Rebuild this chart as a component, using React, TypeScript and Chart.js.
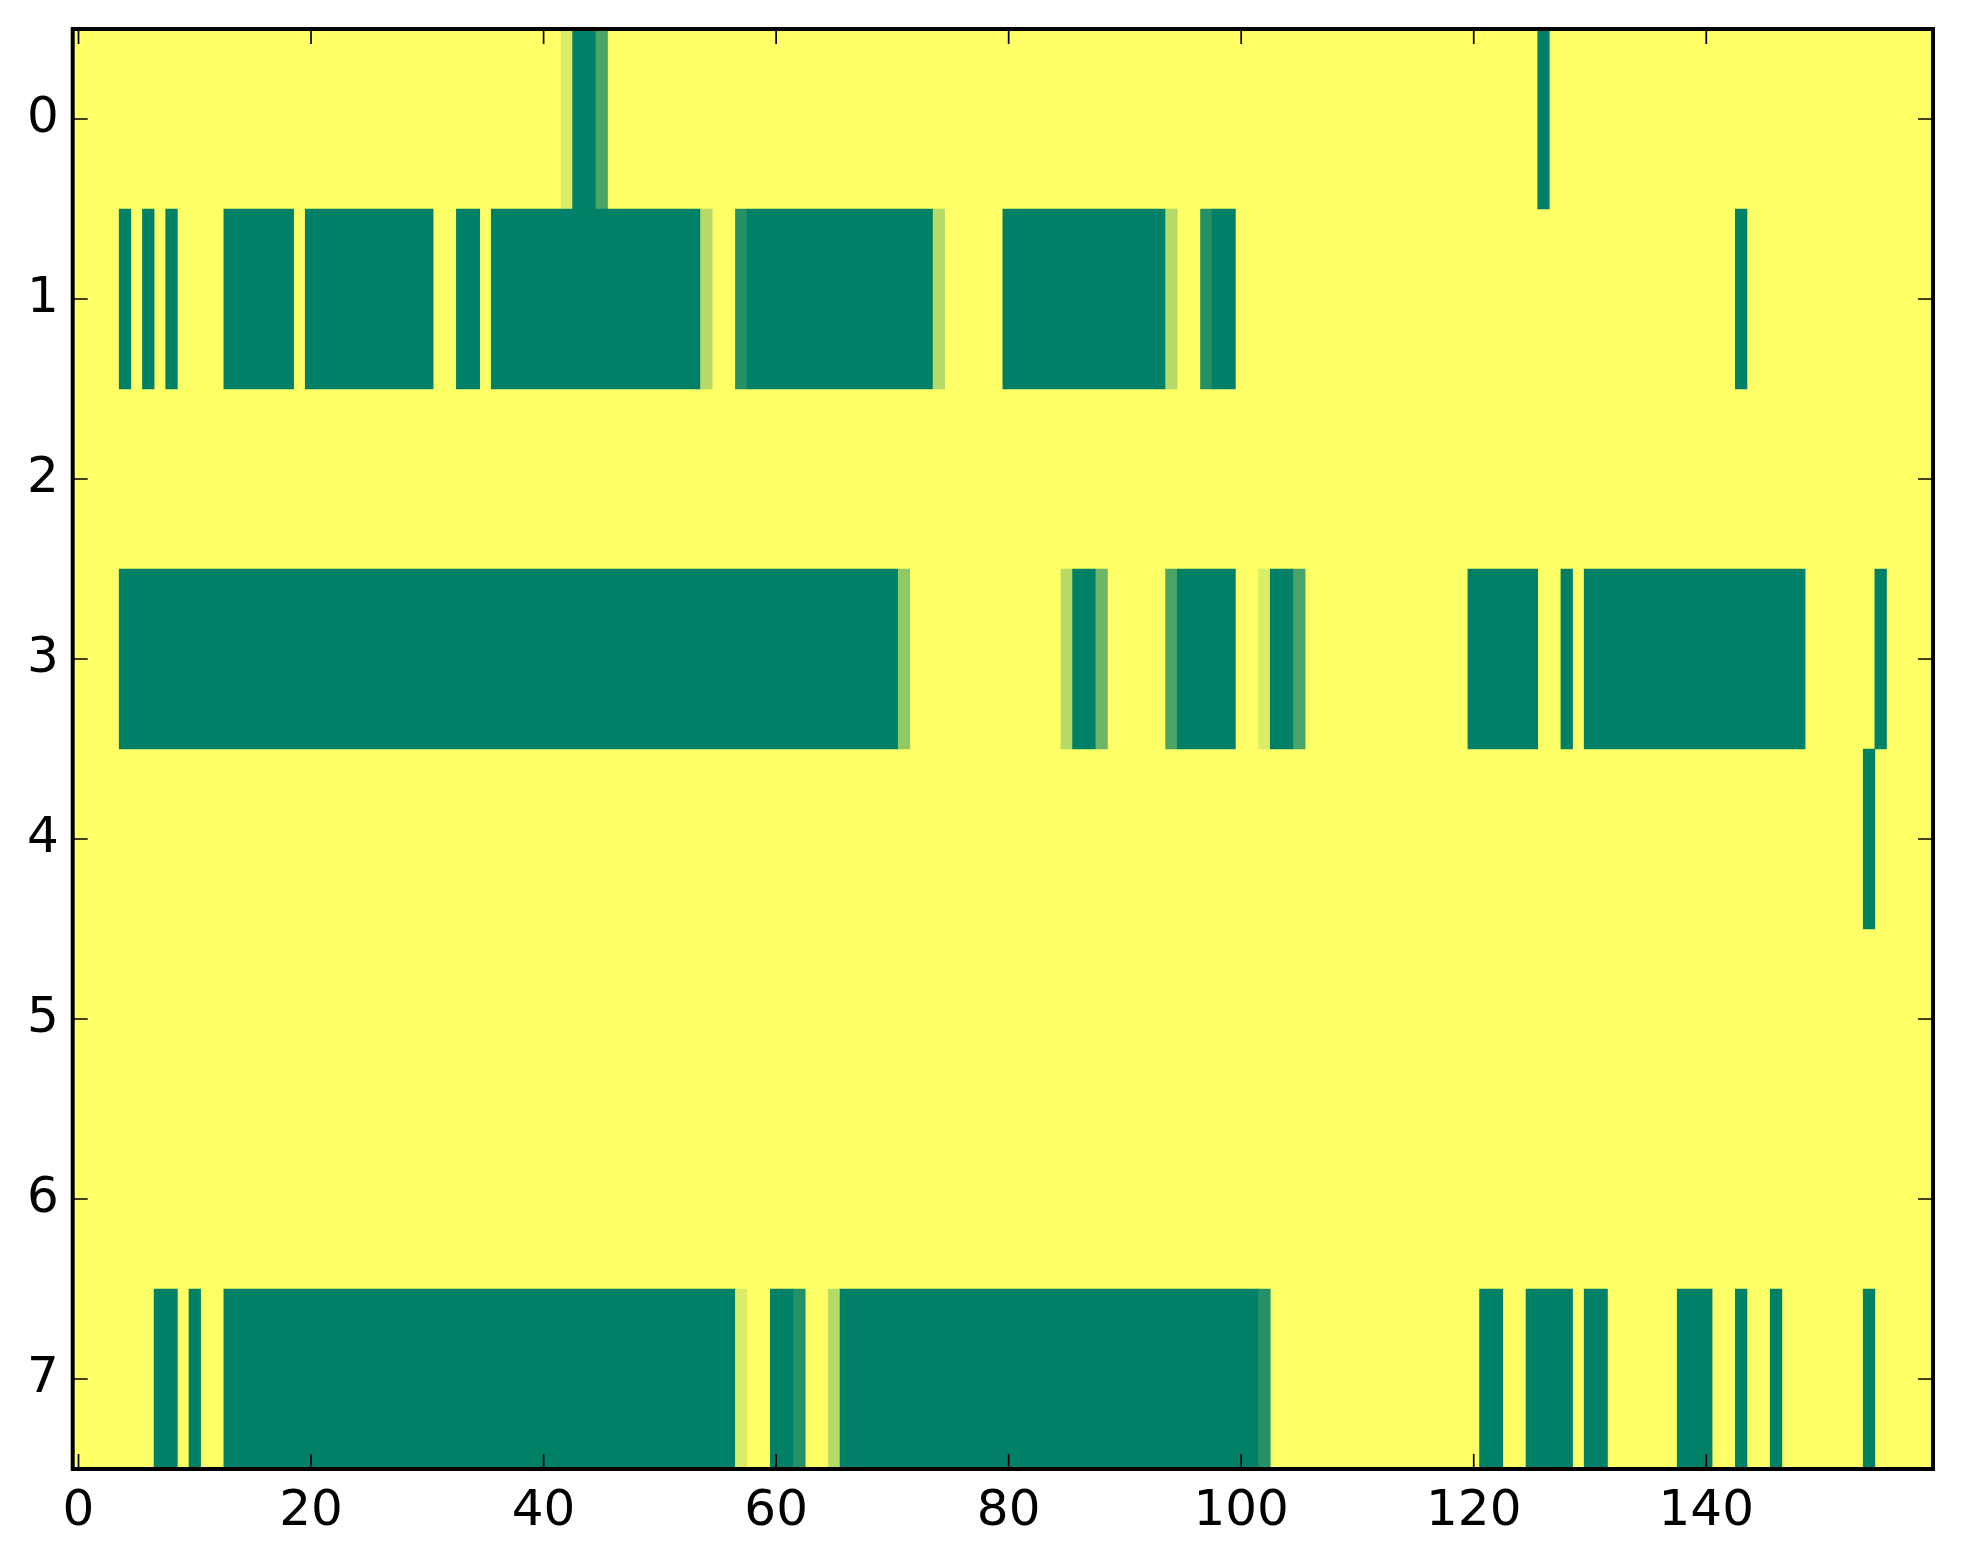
import React, { useEffect, useRef } from 'react';
import { Chart, registerables } from 'chart.js';

Chart.register(...registerables);

// ---- data ----
const rowLabels = ['0', '1', '2', '3', '4', '5', '6', '7'];
const xTickValues = [0, 20, 40, 60, 80, 100, 120, 140];
const xMin = -0.5;
const xMax = 159.5;
const backgroundValue = 1;

// runs of cells that differ from the background value: [firstColumn, lastColumn, value]
const row0Runs = [[42, 42, 0.86], [43, 44, 0], [45, 45, 0.29], [126, 126, 0]];
const row1Runs = [
  [4, 4, 0], [6, 6, 0], [8, 8, 0], [13, 18, 0], [20, 30, 0], [33, 34, 0], [36, 53, 0],
  [54, 54, 0.71], [57, 57, 0.14], [58, 73, 0], [74, 74, 0.71], [80, 93, 0], [94, 94, 0.71],
  [97, 97, 0.14], [98, 99, 0], [143, 143, 0],
];
const row2Runs: number[][] = [];
const row3Runs = [
  [4, 70, 0], [71, 71, 0.57], [85, 85, 0.71], [86, 87, 0], [88, 88, 0.43], [94, 94, 0.29],
  [95, 99, 0], [102, 102, 0.86], [103, 104, 0], [105, 105, 0.29], [120, 125, 0], [128, 128, 0],
  [130, 148, 0], [155, 155, 0],
];
const row4Runs = [[154, 154, 0]];
const row5Runs: number[][] = [];
const row6Runs: number[][] = [];
const row7Runs = [
  [7, 8, 0], [10, 10, 0], [13, 56, 0], [57, 57, 0.86], [60, 61, 0], [62, 62, 0.14],
  [65, 65, 0.71], [66, 101, 0], [102, 102, 0.14], [121, 122, 0], [125, 128, 0], [130, 131, 0],
  [138, 140, 0], [143, 143, 0], [146, 146, 0], [154, 154, 0],
];
const rowRuns = [row0Runs, row1Runs, row2Runs, row3Runs, row4Runs, row5Runs, row6Runs, row7Runs];

// matplotlib "summer" colormap
function summer(v: number): string {
  const r = Math.round(255 * v);
  const g = Math.round(255 * (0.5 + 0.5 * v));
  return `rgb(${r},${g},102)`;
}

const framePlugin = {
  id: 'frameTicks',
  beforeDatasetsDraw(chart: any) {
    const { ctx, chartArea } = chart;
    ctx.save();
    ctx.fillStyle = summer(backgroundValue);
    ctx.fillRect(chartArea.left, chartArea.top, chartArea.right - chartArea.left, chartArea.bottom - chartArea.top);
    ctx.restore();
  },
  afterDraw(chart: any) {
    const { ctx, chartArea } = chart;
    const xs = chart.scales.x;
    const ys = chart.scales.y;
    const L = 15;
    ctx.save();
    ctx.strokeStyle = '#000';
    ctx.lineWidth = 1.7;
    ctx.beginPath();
    xTickValues.forEach((v) => {
      const px = xs.getPixelForValue(v);
      ctx.moveTo(px, chartArea.bottom);
      ctx.lineTo(px, chartArea.bottom - L);
      ctx.moveTo(px, chartArea.top);
      ctx.lineTo(px, chartArea.top + L);
    });
    rowLabels.forEach((_, i) => {
      const py = ys.getPixelForValue(i);
      ctx.moveTo(chartArea.left, py);
      ctx.lineTo(chartArea.left + L, py);
      ctx.moveTo(chartArea.right, py);
      ctx.lineTo(chartArea.right - L, py);
    });
    ctx.stroke();
    ctx.lineWidth = 4;
    ctx.strokeRect(chartArea.left, chartArea.top, chartArea.right - chartArea.left, chartArea.bottom - chartArea.top);
    ctx.restore();
  },
};

export default function App() {
  const canvasRef = useRef<HTMLCanvasElement | null>(null);

  useEffect(() => {
    if (!canvasRef.current) return;
    const points: any[] = [];
    rowRuns.forEach((runs, rowIndex) => {
      runs.forEach(([a, b, v]) => {
        points.push({ x: [a - 0.5, b + 0.5], y: rowLabels[rowIndex], v });
      });
    });

    const chart = new Chart(canvasRef.current, {
      type: 'bar',
      data: {
        labels: rowLabels,
        datasets: [
          {
            data: points,
            backgroundColor: (c: any) => summer(c.raw ? c.raw.v : 0),
            borderWidth: 0,
            barPercentage: 1,
            categoryPercentage: 1,
          } as any,
        ],
      },
      options: {
        indexAxis: 'y',
        animation: false,
        responsive: true,
        maintainAspectRatio: false,
        layout: { padding: { top: 29, right: 30, left: 0, bottom: 0 } },
        plugins: { legend: { display: false }, tooltip: { enabled: false } },
        scales: {
          x: {
            type: 'linear',
            min: xMin,
            max: xMax,
            grid: { display: false, drawTicks: false },
            border: { display: false },
            afterBuildTicks: (s: any) => {
              s.ticks = xTickValues.map((v) => ({ value: v }));
            },
            afterFit: (s: any) => {
              s.height = 95;
              s.paddingLeft = 0;
              s.paddingRight = 0;
            },
            ticks: {
              autoSkip: false,
              maxRotation: 0,
              padding: 13,
              color: '#000',
              font: { family: 'DejaVu Sans', size: 50 },
              callback: (v: any) => String(v),
            },
          },
          y: {
            type: 'category',
            grid: { display: false, drawTicks: false },
            border: { display: false },
            afterFit: (s: any) => {
              s.width = 72.7;
              s.paddingTop = 0;
              s.paddingBottom = 0;
            },
            ticks: {
              padding: 14,
              color: '#000',
              font: { family: 'DejaVu Sans', size: 50 },
            },
          },
        },
      } as any,
      plugins: [framePlugin],
    });
    return () => chart.destroy();
  }, []);

  return (
    <div style={{ position: 'fixed', left: 0, top: 0, width: 1963, height: 1564, background: '#fff' }}>
      <canvas ref={canvasRef} />
    </div>
  );
}
